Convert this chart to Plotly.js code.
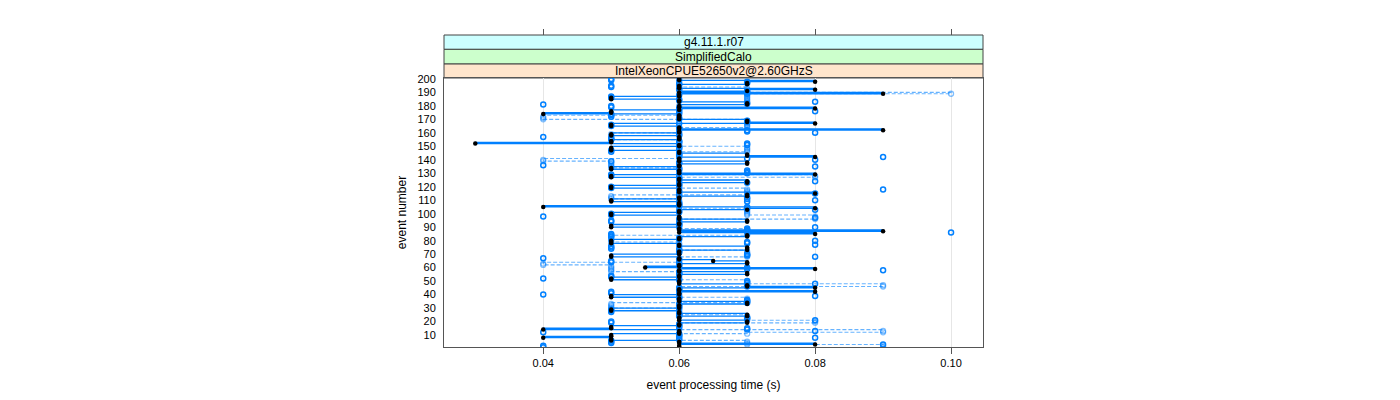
<!DOCTYPE html>
<html>
<head>
<meta charset="utf-8">
<script src="https://cdn.plot.ly/plotly-3.0.1.min.js"></script>
<style>html,body{margin:0;padding:0;background:#fff;}#chart{width:1400px;height:400px;}</style>
</head>
<body>
<div id="chart"></div>
<script>
// ---- data (event processing time in seconds, per event number) ----
const stripLabels = ["g4.11.1.r07", "SimplifiedCalo", "IntelXeonCPUE52650v2@2.60GHzS"];
const xTickValues = [0.04, 0.06, 0.08, 0.10];
const xTickLabels = ["0.04", "0.06", "0.08", "0.10"];
const yTickValues = [10,20,30,40,50,60,70,80,90,100,110,120,130,140,150,160,170,180,190,200];
const eventNumber = Array.from({length: 200}, (_, i) => i + 1);

const timeBlack = [
0.06,0.06,0.08,0.06,0.06,0.05,0.05,0.04,0.05,0.05,
0.06,0.06,0.06,0.04,0.05,0.05,0.06,0.06,0.07,0.07,
0.06,0.06,0.06,0.07,0.07,0.06,0.06,0.05,0.05,0.06,
0.06,0.06,0.07,0.07,0.06,0.06,0.06,0.05,0.05,0.06,
0.06,0.08,0.06,0.06,0.08,0.07,0.07,0.06,0.06,0.06,
0.05,0.05,0.06,0.06,0.07,0.07,0.06,0.06,0.08,0.055,
0.06,0.06,0.07,0.07,0.065,0.06,0.06,0.05,0.05,0.06,
0.06,0.06,0.07,0.07,0.07,0.06,0.06,0.05,0.05,0.05,
0.06,0.06,0.07,0.07,0.08,0.06,0.09,0.06,0.06,0.05,
0.05,0.06,0.06,0.07,0.07,0.06,0.06,0.06,0.05,0.05,
0.06,0.06,0.07,0.08,0.04,0.06,0.06,0.06,0.05,0.05,
0.06,0.06,0.07,0.07,0.08,0.06,0.06,0.06,0.05,0.05,
0.06,0.06,0.07,0.07,0.06,0.06,0.05,0.05,0.08,0.06,
0.06,0.06,0.05,0.05,0.06,0.06,0.07,0.07,0.06,0.06,
0.06,0.08,0.07,0.07,0.06,0.06,0.05,0.05,0.05,0.06,
0.06,0.03,0.05,0.05,0.06,0.06,0.06,0.05,0.05,0.06,
0.06,0.09,0.06,0.06,0.05,0.05,0.08,0.07,0.07,0.06,
0.06,0.06,0.06,0.04,0.05,0.05,0.06,0.08,0.06,0.06,
0.07,0.07,0.06,0.06,0.05,0.05,0.06,0.06,0.09,0.06,
0.07,0.08,0.06,0.06,0.06,0.07,0.07,0.08,0.06,0.06
];

const timeBlue = [
0.04,0.04,0.09,0.05,0.05,0.05,0.06,0.08,0.06,0.06,
0.06,0.04,0.08,0.07,0.07,0.06,0.06,0.06,0.05,0.05,
0.08,0.07,0.07,0.06,0.06,0.06,0.05,0.05,0.05,0.06,
0.06,0.06,0.06,0.07,0.07,0.07,0.06,0.06,0.08,0.04,
0.05,0.05,0.06,0.06,0.06,0.07,0.07,0.08,0.07,0.07,
0.06,0.04,0.05,0.05,0.06,0.06,0.06,0.09,0.07,0.07,
0.06,0.06,0.06,0.05,0.05,0.06,0.04,0.08,0.07,0.07,
0.06,0.06,0.06,0.05,0.05,0.05,0.08,0.07,0.07,0.08,
0.06,0.06,0.05,0.05,0.05,0.10,0.07,0.07,0.07,0.08,
0.06,0.06,0.06,0.05,0.05,0.06,0.08,0.04,0.05,0.05,
0.06,0.06,0.08,0.07,0.07,0.06,0.06,0.06,0.07,0.08,
0.07,0.07,0.06,0.06,0.08,0.06,0.06,0.09,0.05,0.05,
0.06,0.06,0.07,0.08,0.06,0.06,0.06,0.05,0.05,0.07,
0.07,0.07,0.06,0.06,0.08,0.04,0.06,0.06,0.05,0.08,
0.07,0.09,0.06,0.06,0.06,0.05,0.05,0.06,0.06,0.06,
0.07,0.07,0.06,0.06,0.05,0.05,0.04,0.06,0.06,0.08,
0.07,0.07,0.06,0.06,0.05,0.05,0.06,0.07,0.07,0.06,
0.06,0.05,0.05,0.05,0.06,0.08,0.06,0.06,0.05,0.05,
0.04,0.07,0.08,0.06,0.06,0.05,0.05,0.06,0.07,0.07,
0.07,0.06,0.06,0.05,0.05,0.06,0.07,0.07,0.05,0.05
];

const timeLight = [
0.09,0.09,0.07,0.07,0.07,0.06,0.06,0.06,0.06,0.06,
0.07,0.09,0.09,0.06,0.06,0.06,0.06,0.06,0.08,0.08,
0.07,0.07,0.07,0.07,0.06,0.06,0.06,0.06,0.06,0.05,
0.05,0.05,0.05,0.07,0.07,0.07,0.07,0.06,0.06,0.06,
0.06,0.06,0.06,0.06,0.06,0.09,0.09,0.07,0.07,0.07,
0.06,0.06,0.06,0.06,0.06,0.06,0.05,0.05,0.05,0.05,
0.05,0.04,0.04,0.06,0.06,0.06,0.06,0.07,0.07,0.07,
0.07,0.07,0.06,0.06,0.06,0.06,0.06,0.06,0.05,0.05,
0.05,0.05,0.05,0.07,0.07,0.07,0.07,0.07,0.06,0.06,
0.06,0.06,0.06,0.06,0.06,0.08,0.08,0.08,0.07,0.07,
0.07,0.07,0.07,0.06,0.06,0.06,0.06,0.06,0.06,0.06,
0.05,0.05,0.05,0.07,0.07,0.07,0.07,0.07,0.06,0.06,
0.06,0.06,0.06,0.06,0.06,0.06,0.08,0.08,0.06,0.06,
0.06,0.06,0.06,0.05,0.05,0.05,0.05,0.05,0.04,0.04,
0.06,0.06,0.06,0.06,0.06,0.07,0.07,0.07,0.07,0.06,
0.06,0.06,0.06,0.06,0.05,0.05,0.05,0.05,0.05,0.06,
0.06,0.06,0.06,0.07,0.07,0.07,0.07,0.07,0.07,0.04,
0.04,0.04,0.06,0.06,0.06,0.06,0.06,0.06,0.06,0.06,
0.07,0.07,0.07,0.07,0.07,0.07,0.07,0.07,0.10,0.07,
0.07,0.07,0.07,0.06,0.06,0.06,0.06,0.06,0.06,0.06
];

// ---- styling ----
const FONT = "Liberation Sans, Arial, sans-serif";
const BLUE = "#0080ff";
const stripColors = ["#ccffff", "#ccffcc", "#ffe5cc"];
const yDomainTop = 0.8622;
const stripEdges = [1.0, 0.954, 0.907, yDomainTop];

const traces = [
  {
    x: timeLight, y: eventNumber, type: "scatter", mode: "lines+markers",
    line: {shape: "vh", color: "rgba(0,128,255,0.6)", width: 1.1, dash: "4px,2px"},
    marker: {symbol: "circle-open", size: 5, color: "rgba(0,128,255,0.5)", line: {width: 1.3}},
    hoverinfo: "x+y", showlegend: false
  },
  {
    x: timeBlue, y: eventNumber, type: "scatter", mode: "markers",
    marker: {symbol: "circle-open", size: 5, color: BLUE, line: {width: 1.5}},
    hoverinfo: "x+y", showlegend: false
  },
  {
    x: timeBlack, y: eventNumber, type: "scatter", mode: "lines+markers",
    line: {shape: "vh", color: BLUE, width: 1.3},
    marker: {symbol: "circle", size: 4.5, color: "#000000"},
    hoverinfo: "x+y", showlegend: false
  },
  // invisible trace carrying the top tick axis
  {x: [xTickValues[0]], y: [eventNumber[0]], xaxis: "x2", yaxis: "y", mode: "markers",
   marker: {opacity: 0}, hoverinfo: "skip", showlegend: false}
];

const shapes = [];
const annotations = [];
for (let i = 0; i < stripLabels.length; i++) {
  shapes.push({
    type: "rect", xref: "paper", yref: "paper",
    x0: 0, x1: 1, y0: stripEdges[i + 1], y1: stripEdges[i],
    fillcolor: stripColors[i], line: {color: "#444", width: 1}, layer: "below"
  });
  annotations.push({
    xref: "paper", yref: "paper", x: 0.5, y: (stripEdges[i] + stripEdges[i + 1]) / 2,
    text: stripLabels[i], showarrow: false, xanchor: "center", yanchor: "middle",
    font: {family: FONT, size: 12, color: "#000"}
  });
}

const layout = {
  width: 1400, height: 400,
  margin: {l: 444, r: 417, t: 35, b: 53, pad: 0},
  paper_bgcolor: "#fff", plot_bgcolor: "#fff",
  font: {family: FONT, size: 11, color: "#000"},
  xaxis: {
    range: [0.0254, 0.1047], tickvals: xTickValues, ticktext: xTickLabels,
    ticks: "outside", ticklen: 6, tickcolor: "#555", tickwidth: 1,
    showline: true, mirror: true, linecolor: "#555", linewidth: 1,
    showgrid: true, gridcolor: "#e6e6e6", gridwidth: 1, zeroline: false,
    tickfont: {family: FONT, size: 11, color: "#000"},
    title: {text: "event processing time (s)", font: {family: FONT, size: 12, color: "#000"}, standoff: 12}
  },
  xaxis2: {
    matches: "x", overlaying: "x", side: "top", anchor: "free", position: 1,
    tickvals: xTickValues, showticklabels: false, ticks: "outside", ticklen: 6,
    tickcolor: "#555", showline: false, showgrid: false, zeroline: false
  },
  yaxis: {
    domain: [0, yDomainTop], range: [1.1, 200.7], tickvals: yTickValues,
    ticks: "", showline: true, mirror: true, linecolor: "#555", linewidth: 1,
    showgrid: false, zeroline: false, ticklabelstandoff: 5,
    tickfont: {family: FONT, size: 11, color: "#000"},
    title: {text: "event number", font: {family: FONT, size: 12, color: "#000"}, standoff: 8}
  },
  shapes: shapes,
  annotations: annotations
};

Plotly.newPlot("chart", traces, layout, {staticPlot: true, displayModeBar: false});
</script>
</body>
</html>
